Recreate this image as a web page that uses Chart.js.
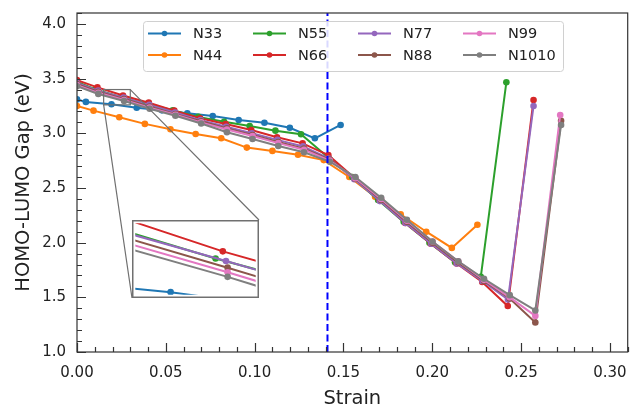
<!DOCTYPE html>
<html>
<head>
<meta charset="utf-8">
<script src="https://cdn.jsdelivr.net/npm/chart.js@4.4.1/dist/chart.umd.min.js"></script>
<style>
  html, body { margin: 0; padding: 0; background: #fff; }
  #wrap { position: relative; width: 631px; height: 407px; }
  #main { position: absolute; left: 0; top: 0; }
  #inset { position: absolute; left: 132px; top: 220px; background: #fff; }
</style>
</head>
<body>
<div id="wrap">
  <canvas id="main" width="631" height="407"></canvas>
  <canvas id="inset" width="127" height="78"></canvas>
</div>
<script>
// series names and colours (matplotlib tab10)
const names = ['N33', 'N44', 'N55', 'N66', 'N77', 'N88', 'N99', 'N1010'];
const colors = ['#1f77b4', '#ff7f0e', '#2ca02c', '#d62728', '#9467bd', '#8c564b', '#e377c2', '#7f7f7f'];

// strain / gap values
const strainN33 = [0, 0.005, 0.0194, 0.0336, 0.0478, 0.0621, 0.0764, 0.0910, 0.1055, 0.1198, 0.1339, 0.1484];
const gapN33    = [3.31, 3.287, 3.265, 3.234, 3.21, 3.183, 3.158, 3.122, 3.097, 3.051, 2.954, 3.076];

const strainN44 = [0, 0.0093, 0.0238, 0.0382, 0.0526, 0.0668, 0.0812, 0.0956, 0.1100, 0.1244, 0.1389, 0.1533, 0.1678, 0.1822, 0.1966, 0.2110, 0.2254];
const gapN44    = [3.25, 3.207, 3.147, 3.086, 3.037, 2.994, 2.954, 2.869, 2.839, 2.804, 2.755, 2.60, 2.42, 2.26, 2.10, 1.952, 2.163];

const strainN55 = [0, 0.0105, 0.0250, 0.0394, 0.0539, 0.0683, 0.0828, 0.0972, 0.1117, 0.1261, 0.1406, 0.1550, 0.1695, 0.1839, 0.1984, 0.2128, 0.2273, 0.2417];
const gapN55    = [3.47, 3.40, 3.331, 3.27, 3.21, 3.15, 3.106, 3.067, 3.024, 2.991, 2.79, 2.60, 2.39, 2.19, 2.00, 1.82, 1.687, 3.467];

const strainN66 = [0, 0.0115, 0.0259, 0.0404, 0.0548, 0.0693, 0.0837, 0.0981, 0.1126, 0.1270, 0.1415, 0.1559, 0.1703, 0.1848, 0.1992, 0.2137, 0.2281, 0.2425, 0.2570];
const gapN66    = [3.486, 3.42, 3.345, 3.28, 3.207, 3.137, 3.085, 3.03, 2.963, 2.908, 2.80, 2.595, 2.39, 2.18, 1.99, 1.81, 1.64, 1.42, 3.305];

const strainN77 = [0, 0.0119, 0.0263, 0.0407, 0.0552, 0.0696, 0.0840, 0.0984, 0.1128, 0.1273, 0.1417, 0.1561, 0.1705, 0.1849, 0.1994, 0.2138, 0.2282, 0.2426, 0.2570];
const gapN77    = [3.46, 3.39, 3.326, 3.26, 3.19, 3.12, 3.06, 3.00, 2.94, 2.88, 2.77, 2.58, 2.38, 2.18, 1.99, 1.81, 1.65, 1.48, 3.25];

const strainN88 = [0, 0.0120, 0.0265, 0.0409, 0.0554, 0.0699, 0.0844, 0.0988, 0.1133, 0.1278, 0.1423, 0.1567, 0.1712, 0.1857, 0.2001, 0.2146, 0.2291, 0.2436, 0.2580, 0.2725];
const gapN88    = [3.45, 3.38, 3.313, 3.245, 3.175, 3.11, 3.045, 2.985, 2.92, 2.86, 2.76, 2.585, 2.39, 2.19, 2.00, 1.82, 1.65, 1.49, 1.27, 3.115];

const strainN99 = [0, 0.0120, 0.0265, 0.0409, 0.0554, 0.0699, 0.0844, 0.0988, 0.1133, 0.1278, 0.1423, 0.1567, 0.1712, 0.1857, 0.2001, 0.2146, 0.2291, 0.2436, 0.2580, 0.2720];
const gapN99    = [3.44, 3.37, 3.304, 3.235, 3.17, 3.10, 3.035, 2.975, 2.91, 2.85, 2.75, 2.59, 2.40, 2.20, 2.01, 1.83, 1.66, 1.50, 1.33, 3.167];

const strainN1010 = [0, 0.0120, 0.0265, 0.0409, 0.0554, 0.0699, 0.0844, 0.0988, 0.1133, 0.1278, 0.1423, 0.1567, 0.1712, 0.1857, 0.2001, 0.2146, 0.2291, 0.2436, 0.2580, 0.2725];
const gapN1010    = [3.43, 3.36, 3.295, 3.225, 3.16, 3.09, 3.009, 2.948, 2.884, 2.826, 2.74, 2.60, 2.41, 2.21, 2.01, 1.83, 1.67, 1.52, 1.38, 3.076];

const strains = [strainN33, strainN44, strainN55, strainN66, strainN77, strainN88, strainN99, strainN1010];
const gaps = [gapN33, gapN44, gapN55, gapN66, gapN77, gapN88, gapN99, gapN1010];

// vertical marker and axis ticks
const markerStrain = 0.141;
const xTickVals = [0, 0.05, 0.10, 0.15, 0.20, 0.25, 0.30];
const yTickVals = [1.0, 1.5, 2.0, 2.5, 3.0, 3.5, 4.0];

// zoomed window shown in the inset
const insetX = [0.015, 0.03];
const insetY = [3.26, 3.40];

const FONT = "'DejaVu Sans', sans-serif";
const TEXT = '#222';

function makeSets(radius) {
  return names.map((n, i) => ({
    label: n,
    data: strains[i].map((x, j) => ({ x: x, y: gaps[i][j] })),
    borderColor: colors[i],
    backgroundColor: colors[i],
    borderWidth: 2,
    pointRadius: radius,
    pointHoverRadius: radius,
    pointBorderWidth: 0,
    tension: 0,
    order: 20 - i
  }));
}

// frame, inward ticks, zoom rectangle and connectors
const frameTicks = {
  id: 'frameTicks',
  afterDatasetsDraw(chart) {
    const { ctx, chartArea: a, scales: { x, y } } = chart;
    ctx.save();
    ctx.strokeStyle = '#333';
    ctx.lineWidth = 1.2;
    ctx.beginPath();
    for (let i = 0; i <= 31; i++) {
      const v = i / 100;
      const px = Math.round(x.getPixelForValue(v)) + 0.5;
      const len = (i % 5 === 0) ? 9 : 5;
      ctx.moveTo(px, a.bottom);
      ctx.lineTo(px, a.bottom - len);
    }
    for (let i = 10; i <= 41; i++) {
      const v = i / 10;
      const py = Math.round(y.getPixelForValue(v)) + 0.5;
      const len = (i % 5 === 0) ? 9 : 5;
      ctx.moveTo(a.left, py);
      ctx.lineTo(a.left + len, py);
    }
    ctx.stroke();
    ctx.strokeRect(a.left, a.top, a.right - a.left, a.bottom - a.top);

    // zoom rectangle
    const rx1 = x.getPixelForValue(insetX[0]), rx2 = x.getPixelForValue(insetX[1]);
    const ry1 = y.getPixelForValue(insetY[1]), ry2 = y.getPixelForValue(insetY[0]);
    ctx.strokeStyle = '#707070';
    ctx.lineWidth = 1.2;
    ctx.strokeRect(rx1, ry1, rx2 - rx1, ry2 - ry1);
    // connectors to inset (lower-left and upper-right corners)
    const inset = document.getElementById('inset');
    const ix1 = inset.offsetLeft, iy1 = inset.offsetTop;
    const ix2 = ix1 + inset.width, iy2 = iy1 + inset.height;
    ctx.beginPath();
    ctx.moveTo(rx1, ry2); ctx.lineTo(ix1, iy2);
    ctx.moveTo(rx2, ry1); ctx.lineTo(ix2, iy1);
    ctx.stroke();
    ctx.restore();
  },
  afterDraw(chart) {
    const { ctx, chartArea: a } = chart;
    ctx.save();
    // axis titles
    ctx.fillStyle = TEXT;
    ctx.font = '19.5px ' + FONT;
    ctx.textAlign = 'center';
    ctx.textBaseline = 'alphabetic';
    ctx.fillText('Strain', (a.left + a.right) / 2, 404);
    ctx.translate(29, (a.top + a.bottom) / 2);
    ctx.rotate(-Math.PI / 2);
    ctx.fillText('HOMO-LUMO Gap (eV)', 0, 0);
    ctx.restore();

    // legend, 4 columns x 2 rows
    ctx.save();
    const bx = 143, by = 21, bw = 420, bh = 50;
    ctx.fillStyle = 'rgba(255,255,255,0.85)';
    ctx.strokeStyle = '#d0d0d0';
    ctx.lineWidth = 1;
    ctx.beginPath();
    ctx.roundRect(bx + 0.5, by + 0.5, bw, bh, 3);
    ctx.fill();
    ctx.stroke();
    const colX = [148, 253, 358, 463];
    const rowY = [33.5, 55];
    ctx.font = '14.5px ' + FONT;
    ctx.textBaseline = 'middle';
    ctx.textAlign = 'left';
    names.forEach((n, i) => {
      const cx = colX[Math.floor(i / 2)];
      const cy = rowY[i % 2];
      ctx.strokeStyle = colors[i];
      ctx.lineWidth = 2;
      ctx.beginPath();
      ctx.moveTo(cx, cy); ctx.lineTo(cx + 33, cy);
      ctx.stroke();
      ctx.fillStyle = colors[i];
      ctx.beginPath();
      ctx.arc(cx + 16.5, cy, 2.8, 0, Math.PI * 2);
      ctx.fill();
      ctx.fillStyle = TEXT;
      ctx.fillText(n, cx + 45, cy + 1);
    });
    ctx.restore();
  }
};

const mainSets = makeSets(3.3);
mainSets.push({
  label: 'marker',
  data: [{ x: markerStrain, y: 1.0 }, { x: markerStrain, y: 4.1 }],
  borderColor: '#0000ff',
  borderWidth: 2,
  borderDash: [7, 3.5],
  pointRadius: 0,
  order: 0
});

new Chart(document.getElementById('main'), {
  type: 'line',
  data: { datasets: mainSets },
  options: {
    responsive: false,
    animation: false,
    events: [],
    layout: { padding: { top: 13, right: 0, left: 0, bottom: 0 } },
    plugins: { legend: { display: false }, tooltip: { enabled: false } },
    scales: {
      x: {
        type: 'linear',
        min: 0, max: 0.31,
        grid: { display: false, drawTicks: false },
        border: { display: false },
        afterBuildTicks: s => { s.ticks = xTickVals.map(v => ({ value: v })); },
        afterFit: s => { s.height = 55; s.paddingLeft = 0; s.paddingRight = 0; },
        ticks: {
          padding: 12,
          color: TEXT,
          font: { family: FONT, size: 15 },
          maxRotation: 0,
          callback: v => Number(v).toFixed(2)
        }
      },
      y: {
        min: 1.0, max: 4.1,
        grid: { display: false, drawTicks: false },
        border: { display: false },
        afterBuildTicks: s => { s.ticks = yTickVals.map(v => ({ value: v })); },
        afterFit: s => { s.width = 77; s.paddingTop = 0; s.paddingBottom = 0; },
        ticks: {
          padding: 11,
          color: TEXT,
          font: { family: FONT, size: 15 },
          callback: v => Number(v).toFixed(1)
        }
      }
    }
  },
  plugins: [frameTicks]
});

// inset frame
const insetFrame = {
  id: 'insetFrame',
  afterDraw(chart) {
    const { ctx, width, height } = chart;
    ctx.save();
    ctx.strokeStyle = '#707070';
    ctx.lineWidth = 1.5;
    ctx.strokeRect(0.75, 0.75, width - 1.5, height - 1.5);
    ctx.restore();
  }
};

new Chart(document.getElementById('inset'), {
  type: 'line',
  data: { datasets: makeSets(3.3) },
  options: {
    responsive: false,
    animation: false,
    events: [],
    layout: { padding: 0 },
    plugins: { legend: { display: false }, tooltip: { enabled: false } },
    scales: {
      x: { type: 'linear', display: false, min: insetX[0], max: insetX[1] },
      y: { display: false, min: insetY[0], max: insetY[1] }
    }
  },
  plugins: [insetFrame]
});
</script>
</body>
</html>
